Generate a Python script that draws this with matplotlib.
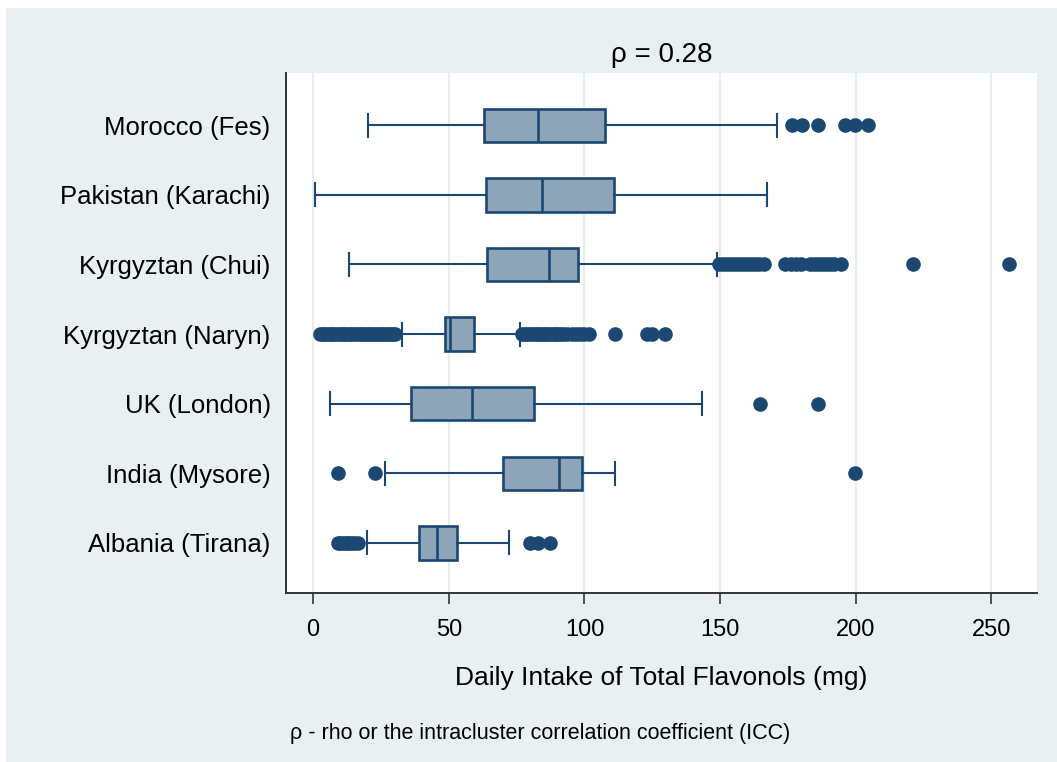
import matplotlib
matplotlib.use('Agg')
import matplotlib.pyplot as plt
from matplotlib.patches import Rectangle

plt.rcParams['font.family'] = ['Liberation Sans', 'DejaVu Sans']

# sites, listed top to bottom
sites = ['Morocco (Fes)', 'Pakistan (Karachi)', 'Kyrgyztan (Chui)', 'Kyrgyztan (Naryn)',
         'UK (London)', 'India (Mysore)', 'Albania (Tirana)']

# box summary per site (mg/day)
whis_lo = [20.1, 0.7, 13.2, 32.7, 6.2, 26.6, 19.8]
q1 = [62.9, 63.7, 64.2, 48.6, 36.2, 69.8, 39.1]
median = [82.8, 84.3, 87.1, 50.5, 58.4, 90.5, 45.6]
q3 = [107.4, 110.8, 97.7, 59.3, 81.3, 99.2, 53.0]
whis_hi = [171.1, 167.2, 148.8, 76.3, 143.2, 111.1, 72.3]

# outside values
out_fes = [176.5, 180.2, 186.1, 196.1, 199.8, 204.5]
out_karachi = []
out_chui = [149.5, 151.0, 152.5, 154.0, 155.5, 157.0, 158.5, 160.0, 161.5, 163.0, 164.5, 166.0,
            174.0, 176.0, 178.0, 180.0, 183.0, 184.5, 186.0, 187.5, 189.0, 190.5, 192.0, 194.5,
            221.0, 256.5]
out_naryn = [2.6, 3.5, 4.5, 5.5, 6.5, 7.5, 8.5, 9.5, 10.5, 11.5, 12.5, 13.5, 14.5, 15.5, 16.5,
             17.5, 18.5, 19.5, 20.5, 21.5, 22.5, 23.5, 24.5, 25.5, 26.5, 27.5, 28.5, 29.5, 30.3,
             76.9, 78.0, 79.0, 80.0, 81.0, 82.0, 83.0, 84.0, 85.0, 86.0, 87.0, 88.0, 89.0, 90.0,
             91.0, 92.0, 93.5, 95.5, 97.0, 98.5, 100.0, 101.5,
             111.3, 123.0, 125.0, 129.8]
out_london = [164.7, 185.9]
out_mysore = [9.0, 22.9, 199.7]
out_tirana = [9.0, 10.0, 11.0, 12.0, 13.0, 14.0, 15.0, 16.5, 80.0, 83.0, 87.4]
outliers = [out_fes, out_karachi, out_chui, out_naryn, out_london, out_mysore, out_tirana]

xticks = [0, 50, 100, 150, 200, 250]

navy = '#1B4873'
bg = '#E8F0F2'

fig = plt.figure(figsize=(10.57, 7.62), dpi=100, facecolor='white')
fig.patches.append(Rectangle((6 / 1057, 0), 1, 1 - 8 / 762, transform=fig.transFigure,
                             facecolor=bg, edgecolor='none', zorder=-10))
ax = fig.add_axes([286 / 1057, 1 - 593 / 762, (1037 - 286) / 1057, (593 - 73) / 762])
ax.set_facecolor('white')

n = len(sites)
positions = list(range(n, 0, -1))
stats = []
for i in range(n):
    stats.append({'whislo': whis_lo[i], 'q1': q1[i], 'med': median[i], 'q3': q3[i],
                  'whishi': whis_hi[i], 'fliers': outliers[i], 'label': sites[i]})

ax.bxp(stats, positions=positions, orientation='horizontal', widths=0.48, capwidths=0.33,
       patch_artist=True,
       boxprops=dict(facecolor='#8EA4B8', edgecolor=navy, linewidth=1.9),
       medianprops=dict(color=navy, linewidth=1.9),
       whiskerprops=dict(color=navy, linewidth=1.5),
       capprops=dict(color=navy, linewidth=1.5),
       flierprops=dict(marker='o', markersize=9.5, markerfacecolor=navy,
                       markeredgecolor=navy, linestyle='none'),
       zorder=3)

ax.set_xlim(-10.0, 266.8)
ax.set_ylim(0.28, n + 0.75)
ax.set_xticks(xticks)
ax.set_xticklabels([str(t) for t in xticks], fontsize=17)
ax.set_yticks(positions)
ax.set_yticklabels(sites, fontsize=18.5)
ax.tick_params(axis='y', length=0, pad=11)
ax.tick_params(axis='x', length=8, width=1.2, color='#333333', pad=11)
ax.grid(axis='x', color='#E7EEF1', linewidth=1.5, zorder=0)
ax.set_axisbelow(True)

for side in ['top', 'right']:
    ax.spines[side].set_visible(False)
for side in ['left', 'bottom']:
    ax.spines[side].set_color('#333333')
    ax.spines[side].set_linewidth(1.4)

ax.set_title('\u03c1 = 0.28', fontsize=20, pad=8)
ax.set_xlabel('Daily Intake of Total Flavonols (mg)', fontsize=19, labelpad=18)
fig.text(290 / 1057, 1 - 733 / 762, '\u03c1 - rho or the intracluster correlation coefficient (ICC)',
         fontsize=15.5, ha='left', va='center')

fig.savefig('out.png', dpi=100, facecolor=fig.get_facecolor())
